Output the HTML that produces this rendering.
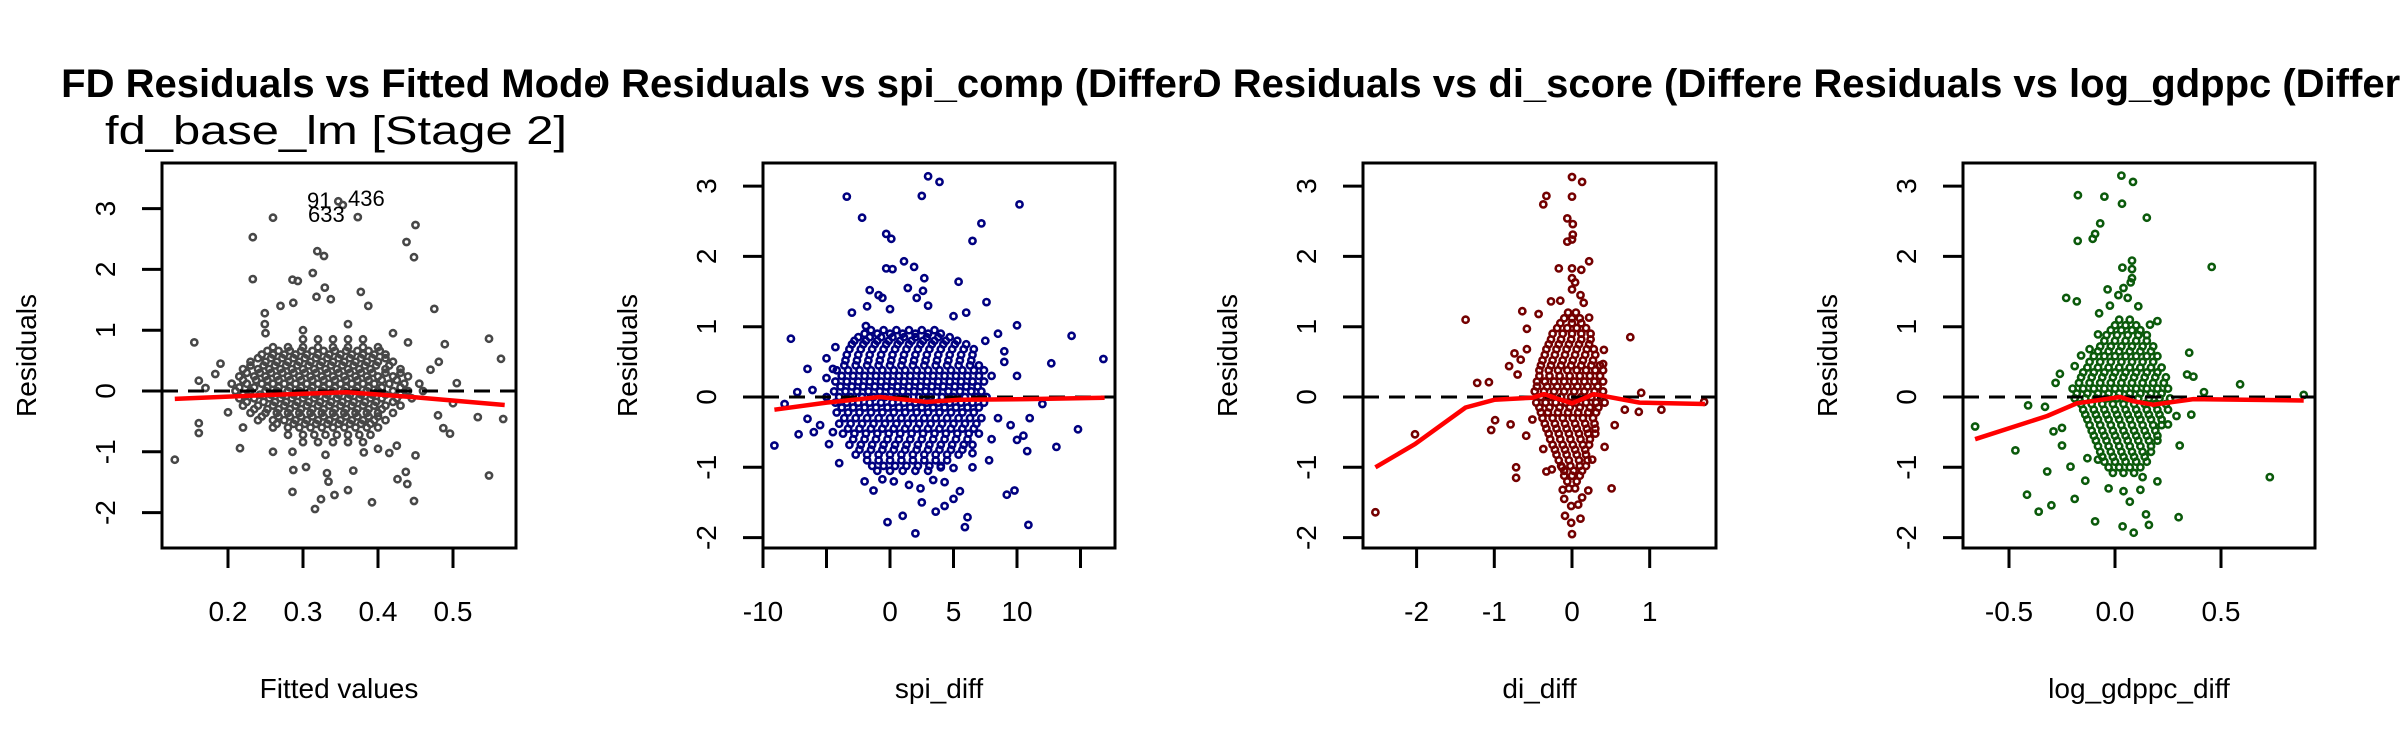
<!DOCTYPE html>
<html><head><meta charset="utf-8"><style>
html,body{margin:0;padding:0;background:#fff;}
svg{display:block;font-family:"Liberation Sans",Arial,sans-serif;}
</style></head><body>
<svg id="chart" width="2400" height="750" viewBox="0 0 2400 750" xmlns="http://www.w3.org/2000/svg">
<rect x="0" y="0" width="2400" height="750" fill="#fff"/>
</svg>
<script>
// ---------- Panel 1: Fitted values ----------
const p1OutX=[0.26,0.233,0.233,0.347,0.353,0.373,0.45,0.438,0.448,0.319,0.328,0.313,0.286,0.293,0.329,0.318,0.337,0.377,0.387,0.27,0.287,0.249,0.249,0.475,0.155,0.548,0.564,0.489,0.481,0.505,0.533,0.567,0.129,0.548,0.161,0.161,0.216,0.183,0.161,0.286,0.316,0.324,0.342,0.36,0.392,0.448,0.439,0.426,0.437,0.45,0.487,0.496,0.334,0.332,0.304,0.287,0.367,0.286,0.381,0.415,0.425,0.19,0.2,0.47,0.48,0.25,0.42,0.3,0.36,0.26,0.4,0.33,0.17,0.5,0.44,0.22];
const p1OutY=[2.85,2.53,1.84,3.12,3.06,2.86,2.73,2.45,2.2,2.3,2.22,1.94,1.83,1.81,1.7,1.55,1.51,1.63,1.4,1.4,1.45,1.28,1.1,1.35,0.8,0.86,0.53,0.77,0.48,0.13,-0.43,-0.46,-1.13,-1.39,-0.53,-0.69,-0.94,0.28,0.17,-1.66,-1.94,-1.78,-1.71,-1.63,-1.83,-1.81,-1.53,-1.45,-1.33,-1.06,-0.61,-0.7,-1.49,-1.35,-1.25,-1.3,-1.31,-1.0,-1.01,-1.02,-0.9,0.45,-0.35,0.35,-0.4,0.95,0.95,1.0,1.1,-1.0,-0.95,-1.05,0.05,-0.2,0.8,-0.6];
const p1CoreY=[0.85,0.72,0.6,0.48,0.36,0.24,0.12,0.0,-0.12,-0.24,-0.36,-0.48,-0.6,-0.72,-0.84,
  0.66,0.54,0.42,0.30,0.18,0.06,-0.06,-0.18,-0.30,-0.42,-0.54];
const p1CoreX=[
[.30,.32,.34,.36,.38],
[.26,.28,.30,.32,.34,.36,.38,.40],
[.245,.26,.275,.29,.305,.32,.335,.35,.365,.38,.395,.41],
[.23,.25,.265,.28,.295,.31,.325,.34,.355,.37,.385,.40,.42],
[.22,.24,.255,.27,.285,.30,.315,.33,.345,.36,.375,.39,.41,.43],
[.215,.235,.25,.265,.28,.295,.31,.325,.34,.355,.37,.385,.40,.42,.44],
[.205,.225,.245,.26,.275,.29,.305,.32,.335,.35,.365,.38,.395,.415,.435,.455],
[.21,.23,.25,.265,.28,.295,.31,.325,.34,.355,.37,.385,.40,.42,.44,.46],
[.215,.235,.255,.27,.285,.30,.315,.33,.345,.36,.375,.39,.405,.425,.445],
[.22,.24,.26,.275,.29,.305,.32,.335,.35,.365,.38,.395,.41,.43],
[.23,.25,.265,.28,.295,.31,.325,.34,.355,.37,.385,.40,.42],
[.24,.26,.275,.29,.305,.32,.335,.35,.365,.38,.395,.41],
[.26,.28,.295,.31,.325,.34,.355,.37,.385,.40],
[.28,.30,.315,.33,.345,.36,.375,.39],
[.30,.32,.34,.36,.38],
[.2525,.2675,.2825,.2975,.3125,.3275,.3425,.3575,.3725,.3875,.4025],
[.24,.2575,.2725,.2875,.3025,.3175,.3325,.3475,.3625,.3775,.3925,.41],
[.23,.2475,.2625,.2775,.2925,.3075,.3225,.3375,.3525,.3675,.3825,.3975,.415],
[.225,.2425,.2575,.2725,.2875,.3025,.3175,.3325,.3475,.3625,.3775,.3925,.41,.43],
[.22,.2375,.2525,.2675,.2825,.2975,.3125,.3275,.3425,.3575,.3725,.3875,.405,.425],
[.215,.235,.2525,.2675,.2825,.2975,.3125,.3275,.3425,.3575,.3725,.3875,.405,.43],
[.22,.2425,.2575,.2725,.2875,.3025,.3175,.3325,.3475,.3625,.3775,.3925,.41,.43],
[.225,.2475,.2625,.2775,.2925,.3075,.3225,.3375,.3525,.3675,.3825,.3975,.42],
[.235,.2525,.2675,.2825,.2975,.3125,.3275,.3425,.3575,.3725,.3875,.405],
[.245,.2675,.2825,.2975,.3125,.3275,.3425,.3575,.3725,.3875,.40],
[.265,.2875,.3025,.3175,.3325,.3475,.3625,.3775,.39]];
const p1LoessX=[0.129,0.243,0.358,0.447,0.569];
const p1LoessY=[-0.13,-0.07,-0.02,-0.1,-0.23];
const p1XTicks=[0.2,0.3,0.4,0.5];
const p1XLabels=["0.2","0.3","0.4","0.5"];
const p1YTicks=[-2,-1,0,1,2,3];

// ---------- Panel 2: spi_diff ----------
const p2OutX=[3.0,3.9,2.5,-3.4,10.2,-2.2,7.2,6.5,-0.3,0.1,1.1,-0.3,0.2,1.9,2.7,5.4,-1.6,-0.9,-0.6,1.4,2.6,2.1,-1.8,7.6,-1.9,10,-7.8,14.3,16.8,12.7,-4.3,-5,-7.3,-6.1,-8.3,-9.1,-7.2,-6.5,-4,-4.8,13.1,14.8,12,10.8,-1.3,-0.2,1,2,5.9,6.1,10.9,9.2,9.8,3.6,4.3,5,5.5,2.5,2.4,1.5,-0.6,0.3,3.4,4.3,6.5,5,10,7.8,-5,-4.5,-5.5,-4.5,8,8.5,9,9.5,8,7.5,8.5,-3,0,3,5,6,-2,4,6.5,9,10,11,10.5,-6,-5,-6.5];
const p2OutY=[3.14,3.06,2.86,2.85,2.74,2.55,2.47,2.22,2.32,2.25,1.93,1.83,1.82,1.85,1.69,1.64,1.52,1.45,1.41,1.55,1.51,1.41,1.29,1.35,1.01,1.02,0.83,0.87,0.54,0.48,0.71,0.27,0.07,0.1,-0.1,-0.69,-0.53,-0.31,-0.94,-0.67,-0.71,-0.46,-0.1,-0.77,-1.33,-1.78,-1.69,-1.94,-1.85,-1.71,-1.82,-1.39,-1.33,-1.63,-1.55,-1.45,-1.34,-1.5,-1.3,-1.25,-1.17,-1.2,-1.18,-1.21,-1.0,-1.01,-0.61,-0.9,0.55,0.4,-0.4,-0.5,0.3,-0.3,0.5,-0.4,-0.6,0.8,0.9,1.2,1.25,1.3,1.15,1.2,-1.2,-1.0,-0.8,0.65,0.3,-0.3,-0.55,-0.5,0.0,0.4];
const p2CoreY=[0.95,0.85,0.75,0.6,0.45,0.3,0.15,0,-0.15,-0.3,-0.45,-0.6,-0.75,-0.9,-1.05,
  0.9,0.8,0.68,0.52,0.38,0.22,0.08,-0.08,-0.22,-0.38,-0.52,-0.68,-0.82,-0.98];
const p2CoreX=[
[-1.5,-0.5,0.5,1.5,2.5,3.5],
[-2.5,-1.6,-0.7,0.2,1.1,2.0,2.9,3.8,4.7],
[-3,-2.1,-1.2,-0.3,0.6,1.5,2.4,3.3,4.2,5.1,6.0],
[-3.4,-2.5,-1.6,-0.7,0.2,1.1,2,2.9,3.8,4.7,5.6,6.5],
[-3.6,-2.7,-1.8,-0.9,0,0.9,1.8,2.7,3.6,4.5,5.4,6.3,7.0],
[-3.8,-2.9,-2,-1.1,-0.2,0.7,1.6,2.5,3.4,4.3,5.2,6.1,7.0],
[-3.9,-3,-2.1,-1.2,-0.3,0.6,1.5,2.4,3.3,4.2,5.1,6,6.9],
[-4,-3.1,-2.2,-1.3,-0.4,0.5,1.4,2.3,3.2,4.1,5,5.9,6.8,7.6],
[-3.8,-2.9,-2,-1.1,-0.2,0.7,1.6,2.5,3.4,4.3,5.2,6.1,7],
[-3.6,-2.7,-1.8,-0.9,0,0.9,1.8,2.7,3.6,4.5,5.4,6.3,7.2],
[-3.3,-2.4,-1.5,-0.6,0.3,1.2,2.1,3,3.9,4.8,5.7,6.6],
[-2.9,-2,-1.1,-0.2,0.7,1.6,2.5,3.4,4.3,5.2,6.1],
[-2.4,-1.5,-0.6,0.3,1.2,2.1,3,3.9,4.8,5.7],
[-1.8,-0.9,0,0.9,1.8,2.7,3.6,4.5],
[-1,0,1,2,3],
[-2,-1,0,1,2,3,4],
[-2.8,-1.9,-1,-0.1,0.8,1.7,2.6,3.5,4.4,5.3],
[-3.2,-2.3,-1.4,-0.5,0.4,1.3,2.2,3.1,4,4.9,5.8,6.6],
[-3.5,-2.6,-1.7,-0.8,0.1,1,1.9,2.8,3.7,4.6,5.5,6.4],
[-4.2,-3.3,-2.4,-1.5,-0.6,0.3,1.2,2.1,3,3.9,4.8,5.7,6.6,7.4],
[-4.3,-3.4,-2.5,-1.6,-0.7,0.2,1.1,2,2.9,3.8,4.7,5.6,6.5,7.4],
[-4.4,-3.5,-2.6,-1.7,-0.8,0.1,1,1.9,2.8,3.7,4.6,5.5,6.4,7.2],
[-4.3,-3.4,-2.5,-1.6,-0.7,0.2,1.1,2,2.9,3.8,4.7,5.6,6.5,7.4],
[-4.2,-3.3,-2.4,-1.5,-0.6,0.3,1.2,2.1,3,3.9,4.8,5.7,6.6],
[-4,-3.1,-2.2,-1.3,-0.4,0.5,1.4,2.3,3.2,4.1,5,5.9,6.8],
[-3.7,-2.8,-1.9,-1,-0.1,0.8,1.7,2.6,3.5,4.4,5.3,6.2,7],
[-3.2,-2.3,-1.4,-0.5,0.4,1.3,2.2,3.1,4,4.9,5.8,6.5],
[-2.7,-1.8,-0.9,0,0.9,1.8,2.7,3.6,4.5,5.4],
[-1.4,-0.5,0.4,1.3,2.2,3.1,4]];
const p2LoessX=[-9.1,-5,-0.8,2.9,5.5,10.8,16.9];
const p2LoessY=[-0.18,-0.08,0,-0.07,-0.04,-0.03,-0.01];
const p2XTicks=[-10,-5,0,5,10,15];
const p2XLabels=["-10","","0","5","10",""];
const p2YTicks=[-2,-1,0,1,2,3];

// ---------- Panel 3: di_diff ----------
const p3OutX=[-2.53,-2.02,-1.37,-1.22,-1.07,-1.04,-0.99,-0.81,-0.74,-0.66,-0.72,-0.72,-0.64,-0.58,-0.58,-0.7,-0.43,-0.33,-0.37,0,0.13,0,-0.06,0.01,0.01,-0.06,0,0.22,-0.17,0,0.12,0,0.04,0,-0.27,-0.15,0.11,0.15,0.22,0.75,0.41,0.89,0.86,1.15,1.7,0.68,0.55,0.42,0.51,0.21,0.13,0.08,0.11,-0.09,-0.01,0,-0.01,-0.12,-0.1,-0.33,-0.26,-0.13,-0.37,-0.59,-0.79,-0.51,0.26,0.4];
const p3OutY=[-1.64,-0.53,1.10,0.2,0.21,-0.47,-0.33,0.44,0.62,0.53,-1.0,-1.15,1.22,0.97,0.68,0.32,1.18,2.86,2.74,3.13,3.06,2.85,2.54,2.46,2.31,2.21,2.24,1.93,1.83,1.83,1.81,1.69,1.63,1.53,1.36,1.37,1.45,1.34,1.13,0.85,0.67,0.06,-0.21,-0.18,-0.07,-0.18,-0.4,-0.71,-1.3,-1.33,-1.43,-1.53,-1.73,-1.69,-1.55,-1.95,-1.79,-1.32,-1.45,-1.06,-1.03,-1.0,-0.74,-0.55,-0.39,-0.32,-0.89,0.47];
const p3CoreY=[1.2,1.05,0.9,0.75,0.6,0.45,0.3,0.15,0,-0.15,-0.3,-0.45,-0.6,-0.75,-0.9,-1.05,-1.2,
  1.12,0.98,0.82,0.68,0.52,0.38,0.22,0.08,-0.08,-0.22,-0.38,-0.52,-0.68,-0.82,-0.98,-1.12,-1.3];
const p3CoreX=[
[-0.05,0.05],
[-0.15,0,0.12],
[-0.25,-0.12,0,0.12,0.24],
[-0.3,-0.17,-0.04,0.09,0.22],
[-0.35,-0.22,-0.09,0.04,0.17,0.3],
[-0.4,-0.27,-0.14,-0.01,0.12,0.25,0.36],
[-0.42,-0.29,-0.16,-0.03,0.1,0.23,0.36],
[-0.45,-0.32,-0.19,-0.06,0.07,0.2,0.33],
[-0.4,-0.27,-0.14,-0.01,0.12,0.25,0.38],
[-0.42,-0.29,-0.16,-0.03,0.1,0.23,0.34],
[-0.38,-0.25,-0.12,0.01,0.14,0.27],
[-0.33,-0.2,-0.07,0.06,0.19,0.3],
[-0.28,-0.15,-0.02,0.11,0.23],
[-0.22,-0.09,0.04,0.17],
[-0.17,-0.04,0.09,0.2],
[-0.1,0.02,0.13],
[-0.06,0.06],
[-0.1,0,0.1],
[-0.19,-0.06,0.06,0.18],
[-0.27,-0.14,-0.01,0.12,0.24],
[-0.33,-0.2,-0.07,0.06,0.19,0.28],
[-0.38,-0.25,-0.12,0.01,0.14,0.27],
[-0.42,-0.3,-0.18,-0.06,0.06,0.18,0.3,0.4],
[-0.45,-0.35,-0.23,-0.1,0.03,0.16,0.29,0.4],
[-0.48,-0.36,-0.23,-0.1,0.03,0.16,0.29,0.4],
[-0.46,-0.34,-0.21,-0.08,0.05,0.18,0.31,0.42],
[-0.4,-0.31,-0.18,-0.05,0.08,0.21,0.31],
[-0.35,-0.22,-0.09,0.04,0.17,0.29],
[-0.3,-0.17,-0.04,0.09,0.21,0.3],
[-0.25,-0.12,0.01,0.14,0.22],
[-0.2,-0.07,0.06,0.18],
[-0.14,-0.02,0.1,0.18],
[-0.1,0,0.1],
[-0.04,0.04]];
const p3LoessX=[-2.53,-2.02,-1.37,-1.0,-0.51,-0.36,0,0.28,0.87,1.71];
const p3LoessY=[-1.0,-0.67,-0.15,-0.04,-0.01,0.04,-0.09,0.04,-0.08,-0.1];
const p3XTicks=[-2,-1,0,1];
const p3XLabels=["-2","-1","0","1"];
const p3YTicks=[-2,-1,0,1,2,3];

// ---------- Panel 4: log_gdppc_diff ----------
const p4OutX=[0.03,0.085,0.033,-0.175,-0.05,0.15,-0.07,-0.094,-0.105,-0.176,0.456,0.08,0.035,0.08,0.08,0.074,-0.035,0.04,0.016,0.06,-0.23,-0.18,-0.024,-0.075,0.11,0.2,0.165,0.35,0.34,0.37,0.59,0.42,0.89,-0.66,-0.47,-0.41,-0.33,-0.32,-0.415,-0.36,-0.3,-0.19,-0.21,-0.14,-0.094,0.036,0.088,0.146,0.16,0.3,0.73,0.2,0.12,0.07,0.04,-0.03,0.13,0.305,-0.29,-0.25,-0.25,-0.13,-0.08,0.25,0.36,0.29,-0.28,-0.26,-0.19,-0.16,-0.12,-0.08];
const p4OutY=[3.15,3.06,2.75,2.87,2.85,2.55,2.47,2.32,2.25,2.22,1.85,1.94,1.84,1.82,1.69,1.63,1.53,1.55,1.45,1.41,1.41,1.36,1.3,1.19,1.29,1.08,1.03,0.63,0.32,0.29,0.18,0.07,0.03,-0.42,-0.76,-0.12,-0.14,-1.06,-1.39,-1.63,-1.54,-1.45,-0.99,-1.19,-1.77,-1.84,-1.93,-1.67,-1.82,-1.71,-1.14,-1.2,-1.32,-1.49,-1.34,-1.3,-1.14,-0.69,-0.49,-0.69,-0.44,-0.87,-0.89,-0.39,-0.25,-0.27,0.2,0.33,0.44,0.59,0.68,0.89];
const p4CoreY=[1.1,0.95,0.8,0.65,0.5,0.35,0.2,0.05,-0.1,-0.25,-0.4,-0.55,-0.7,-0.85,-1.0,
  1.02,0.88,0.72,0.58,0.42,0.28,0.12,-0.02,-0.18,-0.32,-0.48,-0.62,-0.78,-0.92,-1.08];
const p4CoreX=[
[0.02,0.07],
[-0.02,0.03,0.08,0.12],
[-0.05,0,0.05,0.1,0.15],
[-0.08,-0.03,0.02,0.07,0.12,0.17],
[-0.12,-0.07,-0.02,0.03,0.08,0.13,0.18],
[-0.15,-0.1,-0.05,0,0.05,0.1,0.15,0.2],
[-0.17,-0.12,-0.07,-0.02,0.03,0.08,0.13,0.18,0.23],
[-0.18,-0.13,-0.08,-0.03,0.02,0.07,0.12,0.17,0.22],
[-0.16,-0.11,-0.06,-0.01,0.04,0.09,0.14,0.19,0.24],
[-0.14,-0.09,-0.04,0.01,0.06,0.11,0.16,0.21],
[-0.12,-0.07,-0.02,0.03,0.08,0.13,0.18,0.22],
[-0.1,-0.05,0,0.05,0.1,0.15,0.2],
[-0.08,-0.03,0.02,0.07,0.12,0.17],
[-0.06,-0.01,0.04,0.09,0.14],
[-0.03,0.02,0.07,0.12],
[0,0.05,0.1],
[-0.04,0.01,0.06,0.11,0.15],
[-0.07,-0.02,0.03,0.08,0.13,0.18],
[-0.1,-0.05,0,0.05,0.1,0.15,0.2],
[-0.13,-0.08,-0.03,0.02,0.07,0.12,0.17,0.22],
[-0.16,-0.11,-0.06,-0.01,0.04,0.09,0.14,0.19,0.24],
[-0.2,-0.15,-0.1,-0.05,0,0.05,0.1,0.15,0.2,0.25],
[-0.19,-0.14,-0.09,-0.04,0.01,0.06,0.11,0.16,0.21,0.26],
[-0.15,-0.1,-0.05,0,0.05,0.1,0.15,0.2,0.25],
[-0.13,-0.08,-0.03,0.02,0.07,0.12,0.17,0.22],
[-0.11,-0.06,-0.01,0.04,0.09,0.14,0.19],
[-0.09,-0.04,0.01,0.06,0.11,0.16,0.2],
[-0.07,-0.02,0.03,0.08,0.13,0.17],
[-0.05,0,0.05,0.1,0.15],
[-0.01,0.04,0.09]];
const p4LoessX=[-0.66,-0.32,-0.18,0.024,0.086,0.18,0.37,0.89];
const p4LoessY=[-0.6,-0.27,-0.09,0,-0.06,-0.11,-0.03,-0.05];
const p4XTicks=[-0.5,0.0,0.5];
const p4XLabels=["-0.5","0.0","0.5"];
const p4YTicks=[-2,-1,0,1,2,3];

const p1Labels=["91","436","633"];

const NS="http://www.w3.org/2000/svg";
const svg=document.getElementById('chart');
function mk(tag,attrs,parent){const e=document.createElementNS(NS,tag);for(const k in attrs)e.setAttribute(k,attrs[k]);(parent||svg).appendChild(e);return e;}

const BOX_T=163,BOX_B=548;
const panels=[
 {id:1,ox:0,bl:162,br:516,xs:v=>228+(v-0.2)*750,ys:v=>391-60.8*v,color:"#474747",
  outX:p1OutX,outY:p1OutY,coreY:p1CoreY,coreX:p1CoreX,lx:p1LoessX,ly:p1LoessY,
  xt:p1XTicks,xl:p1XLabels,yt:p1YTicks,title:"FD Residuals vs Fitted Model",xtitle:"Fitted values"},
 {id:2,ox:600,bl:763,br:1115,xs:v=>890+12.7*v,ys:v=>397-70.3*v,color:"#000080",
  outX:p2OutX,outY:p2OutY,coreY:p2CoreY,coreX:p2CoreX,lx:p2LoessX,ly:p2LoessY,
  xt:p2XTicks,xl:p2XLabels,yt:p2YTicks,title:"FD Residuals vs spi_comp (Differenced)",xtitle:"spi_diff"},
 {id:3,ox:1200,bl:1363,br:1716,xs:v=>1572+77.7*v,ys:v=>397-70.3*v,color:"#740000",
  outX:p3OutX,outY:p3OutY,coreY:p3CoreY,coreX:p3CoreX,lx:p3LoessX,ly:p3LoessY,
  xt:p3XTicks,xl:p3XLabels,yt:p3YTicks,title:"FD Residuals vs di_score (Differenced)",xtitle:"di_diff"},
 {id:4,ox:1800,bl:1963,br:2315,xs:v=>2115+212*v,ys:v=>397-70.3*v,color:"#0b5a0b",
  outX:p4OutX,outY:p4OutY,coreY:p4CoreY,coreX:p4CoreX,lx:p4LoessX,ly:p4LoessY,
  xt:p4XTicks,xl:p4XLabels,yt:p4YTicks,title:"FD Residuals vs log_gdppc (Differenced)",xtitle:"log_gdppc_diff"}
];

const defs=mk('defs',{});
panels.forEach(p=>{
  const cp=mk('clipPath',{id:'plot'+p.id},defs);
  mk('rect',{x:p.bl,y:BOX_T,width:p.br-p.bl,height:BOX_B-BOX_T},cp);
  const cf=mk('clipPath',{id:'fig'+p.id},defs);
  mk('rect',{x:p.ox,y:0,width:600,height:750},cf);

  const g=mk('g',{});
  
  

  const pts=mk('g',{'clip-path':'url(#plot'+p.id+')',fill:'none',stroke:p.color,'stroke-width':2.6},g);
  
  
  p.coreY.forEach((yv,i)=>{p.coreX[i].forEach(xv=>{
    const c=mk('circle',{cx:p.xs(xv).toFixed(1),cy:p.ys(yv).toFixed(1),r:3.1},pts);
    
    
  });});
  p.outX.forEach((xv,i)=>{
    const c=mk('circle',{cx:p.xs(xv).toFixed(1),cy:p.ys(p.outY[i]).toFixed(1),r:3.1},pts);
    
    
  });

  const zl=mk('line',{x1:p.bl,x2:p.br,y1:p.ys(0),y2:p.ys(0),stroke:'#000','stroke-width':3,'stroke-dasharray':'16 10'},g);
  
  

  const d=p.lx.map((xv,i)=>(i?'L':'M')+p.xs(xv).toFixed(1)+','+p.ys(p.ly[i]).toFixed(1)).join(' ');
  const lo=mk('path',{d:d,fill:'none',stroke:'#ff0000','stroke-width':4.5,'stroke-linejoin':'round','clip-path':'url(#plot'+p.id+')'},g);
  
  

  const box=mk('rect',{x:p.bl,y:BOX_T,width:p.br-p.bl,height:BOX_B-BOX_T,fill:'none',stroke:'#000','stroke-width':3},g);
  
  

  p.xt.forEach((t,i)=>{
    const x=p.xs(t);
    const tk=mk('line',{x1:x,x2:x,y1:BOX_B,y2:BOX_B+20,stroke:'#000','stroke-width':3},g);
    
    
    if(p.xl[i]){
      const tl=mk('text',{x:x,y:621,'font-size':28,'text-anchor':'middle'},g);
      tl.textContent=p.xl[i];
      
      
    }
  });
  p.yt.forEach(t=>{
    const y=p.ys(t);
    const tk=mk('line',{x1:p.bl-20,x2:p.bl,y1:y,y2:y,stroke:'#000','stroke-width':3},g);
    
    
    const tl=mk('text',{x:0,y:0,'font-size':28,'text-anchor':'middle',transform:'translate('+(p.bl-47)+','+y+') rotate(-90)'},g);
    tl.textContent=String(t);
    
    
  });
  const yt=mk('text',{x:0,y:0,'font-size':28,'text-anchor':'middle',transform:'translate('+(p.bl-126)+','+((BOX_T+BOX_B)/2)+') rotate(-90)'},g);
  yt.textContent='Residuals';
  
  
  const xt=mk('text',{x:(p.bl+p.br)/2,y:698,'font-size':28,'text-anchor':'middle'},g);
  xt.textContent=p.xtitle;
  
  

  const tg=mk('g',{'clip-path':'url(#fig'+p.id+')'},g);
  const tt=mk('text',{x:(p.bl+p.br)/2,y:97,'font-size':40,'font-weight':'bold','text-anchor':'middle'},tg);
  tt.textContent=p.title;
  
  
});

const st=mk('text',{x:336,y:144,'font-size':40,'text-anchor':'middle',textLength:462,lengthAdjust:'spacingAndGlyphs'});
st.textContent='fd_base_lm [Stage 2]';


const lblPos=[[307,208],[348,206],[308,222]];
p1Labels.forEach((s,i)=>{
  const t=mk('text',{x:lblPos[i][0],y:lblPos[i][1],'font-size':22});
  t.textContent=s;
  
  
});
</script>
</body></html>
